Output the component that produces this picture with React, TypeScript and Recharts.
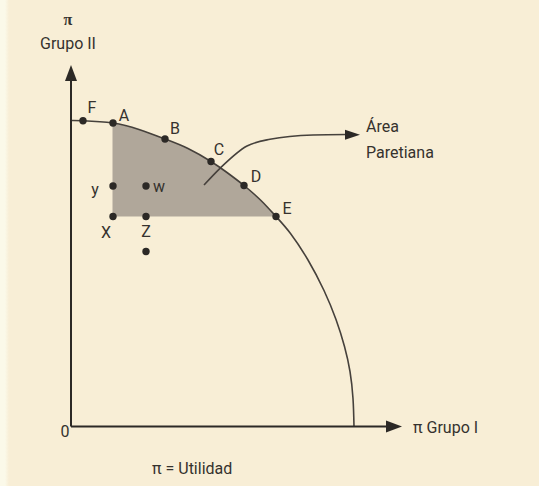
import {
  ComposedChart,
  XAxis,
  YAxis,
  Line,
  Area,
  Scatter,
  ReferenceLine,
  ReferenceDot,
  Customized,
} from "recharts";

// utility possibility frontier (x = Grupo I, y = Grupo II)
const frontier = [
  { x: 0, y: 30.6 },
  { x: 1.2, y: 30.58 },
  { x: 4.2, y: 30.35 },
  { x: 6.8, y: 29.7 },
  { x: 9.4, y: 28.75 },
  { x: 11.7, y: 27.8 },
  { x: 14.0, y: 26.5 },
  { x: 15.6, y: 25.4 },
  { x: 17.3, y: 24.1 },
  { x: 19.0, y: 22.6 },
  { x: 20.5, y: 21.0 },
  { x: 21.95, y: 19.3 },
  { x: 23.7, y: 16.65 },
  { x: 25.3, y: 13.6 },
  { x: 26.5, y: 10.7 },
  { x: 27.35, y: 8.0 },
  { x: 27.9, y: 5.5 },
  { x: 28.2, y: 2.8 },
  { x: 28.3, y: 0 },
];

const frontierPoints = [
  { name: "F", x: 1.2, y: 30.58 },
  { name: "A", x: 4.2, y: 30.35 },
  { name: "B", x: 9.4, y: 28.75 },
  { name: "C", x: 14.0, y: 26.5 },
  { name: "D", x: 17.3, y: 24.1 },
  { name: "E", x: 20.5, y: 21.0 },
];

const innerPoints = [
  { name: "y", x: 4.2, y: 24.05 },
  { name: "w", x: 7.5, y: 24.05 },
  { name: "X", x: 4.2, y: 21.0 },
  { name: "Z", x: 7.5, y: 21.0 },
  { name: "", x: 7.5, y: 17.5 },
];

// pointer to the paretian area
const pointer = [
  { x: 13.3, y: 24.15 },
  { x: 14.9, y: 25.82 },
  { x: 17.6, y: 28.05 },
  { x: 19.9, y: 28.72 },
  { x: 24.2, y: 29.15 },
  { x: 27.6, y: 29.2 },
];

const X_MAX = 33.1;
const Y_MAX = 36.15;

const INK = "#2c2926";
const TEXT = "#35322e";
const FONT = "Roboto, 'Liberation Sans', Arial, sans-serif";

// label offsets in px, relative to each dot
const labelOffset: Record<string, [number, number]> = {
  F: [9, -13],
  A: [11, -8],
  B: [10, -11],
  C: [8, -12],
  D: [12, -9],
  E: [11, -8],
  y: [-18, 3],
  w: [13, 0],
  X: [-7, 16],
  Z: [0, 15],
};

// shaded region: between A and E, under the frontier, above X-E
const xA = frontierPoints[1].x;
const xE = frontierPoints[5].x;
const floorY = innerPoints[2].y;
const shaded = frontier.filter((p) => p.x >= xA && p.x <= xE);

const Dot = (props: any) => {
  const { cx, cy, payload } = props;
  const off = labelOffset[payload.name] || [0, 0];
  return (
    <g>
      <circle cx={cx} cy={cy} r={3.7} fill={INK} />
      {payload.name && (
        <text
          x={cx + off[0]}
          y={cy + off[1]}
          textAnchor="middle"
          dominantBaseline="central"
          fontSize={16}
          fontFamily={FONT}
          fill={TEXT}
        >
          {payload.name}
        </text>
      )}
    </g>
  );
};

const arrowRight = (props: any) => {
  const { cx, cy } = props;
  return (
    <path d={`M${cx},${cy} L${cx - 16},${cy - 6} L${cx - 16},${cy + 6} Z`} fill={INK} />
  );
};

const arrowSmall = (props: any) => {
  const { cx, cy } = props;
  return (
    <path d={`M${cx},${cy} L${cx - 15},${cy - 5} L${cx - 15},${cy + 5} Z`} fill={INK} />
  );
};

const arrowUp = (props: any) => {
  const { cx, cy } = props;
  return (
    <path d={`M${cx},${cy} L${cx - 6},${cy + 16} L${cx + 6},${cy + 16} Z`} fill={INK} />
  );
};

const Texts = () => {
  const t = { fontSize: 16, fontFamily: FONT, fill: TEXT, dominantBaseline: "central" as const };
  return (
    <g>
      <text x={68} y={19} textAnchor="middle" {...t} fontFamily="'Liberation Serif', serif" fontWeight={700}>π</text>
      <text x={68} y={43} textAnchor="middle" {...t}>Grupo II</text>
      <text x={366} y={126} {...t}>Área</text>
      <text x={366} y={152} {...t}>Paretiana</text>
      <text x={65} y={431} textAnchor="middle" {...t}>0</text>
      <text x={413} y={427} {...t}>π Grupo I</text>
      <text x={152} y={468} {...t}>π = Utilidad</text>
    </g>
  );
};

export default function App() {
  return (
    <div
      style={{
        position: "absolute",
        left: 0,
        top: 0,
        width: 539,
        height: 486,
        background: "linear-gradient(to right, #fbf9e9 0px, #fbf9e9 5px, #f8eed6 9px)",
      }}
    >
      <ComposedChart
        width={539}
        height={486}
        margin={{ top: 65, right: 137, bottom: 59.5, left: 71 }}
      >
        <XAxis type="number" dataKey="x" domain={[0, X_MAX]} allowDataOverflow hide />
        <YAxis type="number" dataKey="y" domain={[0, Y_MAX]} allowDataOverflow hide />

        <Area
          data={shaded}
          dataKey={(d: any) => [floorY, d.y]}
          type="natural"
          stroke="none"
          fill="#b0a79a"
          fillOpacity={1}
          isAnimationActive={false}
        />
        <ReferenceLine
          segment={[{ x: xA, y: floorY }, { x: xA, y: frontierPoints[1].y }]}
          stroke="#b0a79a"
          strokeWidth={1}
        />

        <Line
          data={frontier}
          dataKey="y"
          type="natural"
          stroke="#46413c"
          strokeWidth={1.6}
          dot={false}
          isAnimationActive={false}
        />
        <Line
          data={pointer}
          dataKey="y"
          type="monotone"
          stroke="#46413c"
          strokeWidth={1.6}
          dot={false}
          isAnimationActive={false}
        />

        <ReferenceLine
          segment={[{ x: 0, y: 0 }, { x: 31.6, y: 0 }]}
          stroke={INK}
          strokeWidth={2}
        />
        <ReferenceLine
          segment={[{ x: 0, y: 0 }, { x: 0, y: 34.6 }]}
          stroke={INK}
          strokeWidth={2}
        />
        <ReferenceDot x={X_MAX} y={0} shape={arrowRight} />
        <ReferenceDot x={0} y={Y_MAX} shape={arrowUp} />
        <ReferenceDot x={28.9} y={29.17} shape={arrowSmall} />

        <Scatter data={frontierPoints} shape={Dot} isAnimationActive={false} />
        <Scatter data={innerPoints} shape={Dot} isAnimationActive={false} />

        <Customized component={Texts} />
      </ComposedChart>
    </div>
  );
}
